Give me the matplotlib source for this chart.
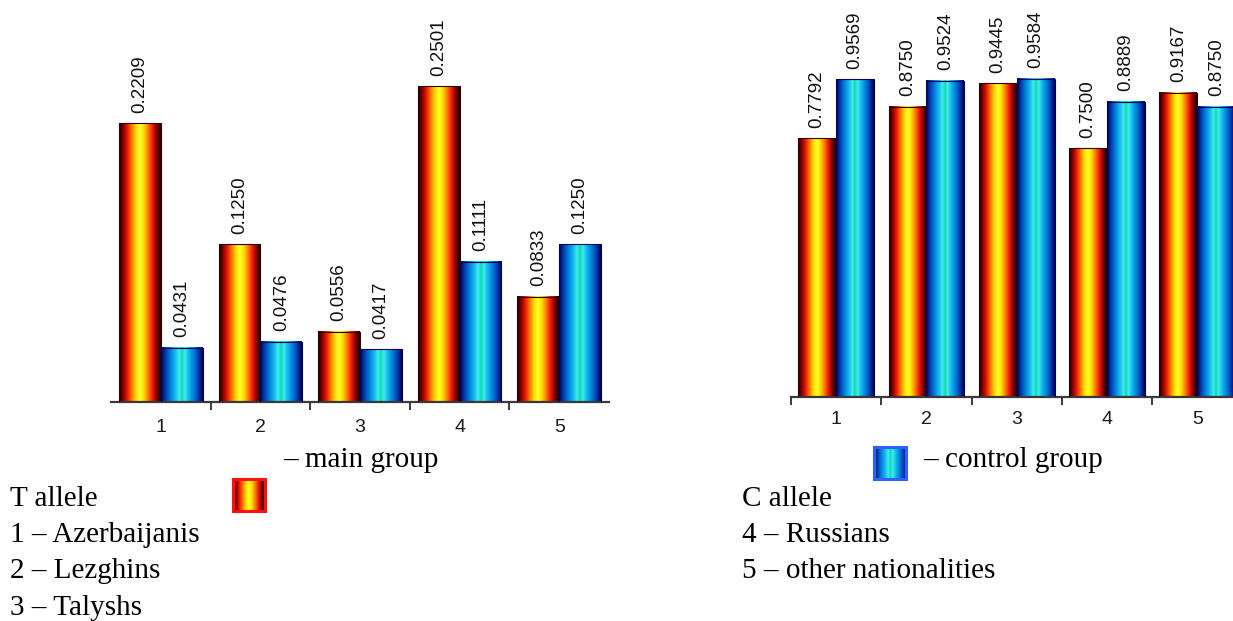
import numpy as np
import matplotlib
matplotlib.use("Agg")
import matplotlib.pyplot as plt
from matplotlib.colors import LinearSegmentedColormap

# Allele frequencies by ethnic group
groups = ["1", "2", "3", "4", "5"]
t_allele_main = [0.2209, 0.1250, 0.0556, 0.2501, 0.0833]
t_allele_control = [0.0431, 0.0476, 0.0417, 0.1111, 0.1250]
c_allele_main = [0.7792, 0.8750, 0.9445, 0.7500, 0.9167]
c_allele_control = [0.9569, 0.9524, 0.9584, 0.8889, 0.8750]

legend_left = ["T allele", "1 – Azerbaijanis", "2 – Lezghins", "3 – Talyshs"]
legend_right = ["C allele", "4 – Russians", "5 – other nationalities"]


def mirrored_cmap(name, stops):
    pos = [p for p, _ in stops]
    cols = [c for _, c in stops]
    full = list(zip(pos, cols)) + [(1 - p, c) for p, c in reversed(list(zip(pos, cols))[:-1])]
    return LinearSegmentedColormap.from_list(name, full)


hot_cmap = mirrored_cmap("hotbar", [
    (0.0, "#1a0000"), (0.05, "#400000"), (0.12, "#a00000"),
    (0.21, "#f02000"), (0.31, "#ff8000"), (0.41, "#ffdd00"), (0.5, "#ffff30")])
cool_cmap = mirrored_cmap("coolbar", [
    (0.0, "#000040"), (0.05, "#001a80"), (0.14, "#0050c0"),
    (0.25, "#0090e0"), (0.36, "#20c0f0"), (0.43, "#40eef0"), (0.5, "#10d8b0")])

grad = np.linspace(0, 1, 256).reshape(1, -1)

W, H = 1233, 621
fig = plt.figure(figsize=(W / 100, H / 100), dpi=100)

serif = "Liberation Serif"
sans = "Liberation Sans"


def draw_panel(rect, main_vals, ctrl_vals, top, left_tick, label_pad):
    ax = fig.add_axes(rect)
    x = np.arange(len(groups))
    w = 0.42
    bars_main = ax.bar(x - w / 2, main_vals, width=w, color="none",
                       edgecolor="#300000", linewidth=0.8, zorder=3)
    bars_ctrl = ax.bar(x + w / 2, ctrl_vals, width=w, color="none",
                       edgecolor="#000060", linewidth=0.8, zorder=3)
    for bars, cmap in ((bars_main, hot_cmap), (bars_ctrl, cool_cmap)):
        for b in bars:
            bx, by = b.get_x(), b.get_y()
            bw, bh = b.get_width(), b.get_height()
            ax.imshow(grad, cmap=cmap, aspect="auto", interpolation="bilinear",
                      extent=(bx, bx + bw, by, by + bh), zorder=2)
            ax.annotate(f"{bh:.4f}", (bx + bw / 2, bh), xytext=(0, 7.5),
                        textcoords="offset points", rotation=90,
                        ha="center", va="bottom", fontsize=13.5,
                        family=sans, color="#111111")
    ax.set_xlim(-0.5, len(groups) - 0.5)
    ax.set_ylim(0, top)
    for s in ("left", "right", "top"):
        ax.spines[s].set_visible(False)
    ax.spines["bottom"].set_color("#3a3a3a")
    ax.spines["bottom"].set_linewidth(1.6)
    ax.set_yticks([])
    ax.set_xticks(x)
    ax.set_xticklabels(groups, fontsize=14, family=sans, color="#1a1a1a")
    ax.tick_params(axis="x", which="major", length=0, pad=label_pad)
    seps = np.arange(0.5, len(groups) - 0.5, 1.0)
    if left_tick:
        seps = np.concatenate([[-0.5], seps])
    ax.set_xticks(seps, minor=True)
    ax.tick_params(axis="x", which="minor", length=6, width=1.4,
                   color="#3a3a3a", direction="out")
    ax.patch.set_alpha(0)
    return ax


# T allele panel
draw_panel([111 / W, (H - 402) / H, 498 / W, 402 / H],
           t_allele_main, t_allele_control, 402 / 1263, False, 12)
# C allele panel (runs past the right edge)
draw_panel([791 / W, (H - 397) / H, 451.5 / W, 397 / H],
           c_allele_main, c_allele_control, 397 / 332, True, 10)


def swatch(x0, y0, size, cmap, border):
    sax = fig.add_axes([x0 / W, (H - y0 - size) / H, size / W, size / H])
    sax.imshow(grad, cmap=cmap, aspect="auto", interpolation="bilinear",
               extent=(0, 1, 0, 1))
    sax.set_xticks([])
    sax.set_yticks([])
    for s in sax.spines.values():
        s.set_color(border)
        s.set_linewidth(2.2)


swatch(233, 479, 32, hot_cmap, "#ff1010")
swatch(874, 447, 32, cool_cmap, "#3060ff")

fs = 21
fig.text(283 / W, 1 - 467 / H, "– main group", family=serif, fontsize=fs,
         va="baseline", ha="left")
fig.text(923 / W, 1 - 467 / H, "– control group", family=serif, fontsize=fs,
         va="baseline", ha="left")

baselines = [506, 542, 578, 615]
for txt, yb in zip(legend_left, baselines):
    fig.text(10 / W, 1 - yb / H, txt, family=serif, fontsize=fs,
             va="baseline", ha="left")
for txt, yb in zip(legend_right, baselines):
    fig.text(742 / W, 1 - yb / H, txt, family=serif, fontsize=fs,
             va="baseline", ha="left")

fig.savefig("out.png", dpi=100)
